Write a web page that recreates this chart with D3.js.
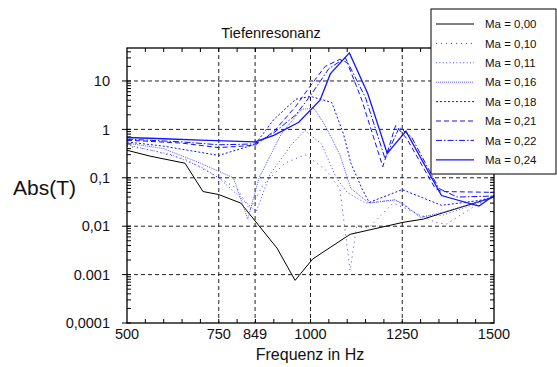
<!DOCTYPE html>
<html>
<head>
<meta charset="utf-8">
<script src="https://cdn.jsdelivr.net/npm/d3@7"></script>
<style>
  body { margin: 0; background: #fff; }
  text { font-family: "Liberation Sans", Arial, sans-serif; fill: #111; }
</style>
</head>
<body>
<script>
const width = 557;
const height = 367;
const margin = { top: 48, right: 63, bottom: 44, left: 127 };

// x tick values (Hz) and y tick labels
const xTicks = [500, 750, 849, 1000, 1250, 1500];
const yTicks = [0.0001, 0.001, 0.01, 0.1, 1, 10];
const yTickLabels = ['0,0001', '0.001', '0,01', '0,1', '1', '10'];

const machLabels = ['Ma = 0,00', 'Ma = 0,10', 'Ma = 0,11', 'Ma = 0,16',
                    'Ma = 0,18', 'Ma = 0,21', 'Ma = 0,22', 'Ma = 0,24'];

// [frequency in Hz, Abs(T)]
const ma000 = [[500,0.37],[563,0.28],[658,0.2],[707,0.052],[750,0.045],[810,0.03],
  [909,0.0035],[958,0.00076],[1006,0.0021],[1108,0.0068],[1252,0.012],[1307,0.014],
  [1362,0.019],[1500,0.04]];
const ma010 = [[500,0.45],[560,0.38],[660,0.24],[750,0.1],[800,0.06],[835,0.022],
  [870,0.07],[930,0.2],[985,0.3],[1040,0.15],[1080,0.06],[1108,0.0012],[1125,0.0095],
  [1160,0.0095],[1225,0.03],[1280,0.02],[1340,0.012],[1370,0.011],[1460,0.03],[1500,0.04]];
const ma011 = [[500,0.48],[620,0.3],[700,0.17],[750,0.1],[800,0.045],[852,0.02],
  [890,0.12],[950,0.5],[985,0.95],[1030,0.5],[1070,0.1],[1100,0.05],[1150,0.03],
  [1230,0.035],[1300,0.016],[1362,0.017],[1460,0.031],[1500,0.04]];
const ma016 = [[500,0.52],[600,0.4],[700,0.2],[790,0.1],[829,0.014],[860,0.1],
  [920,0.8],[975,2.6],[1010,2.7],[1040,1.2],[1080,0.3],[1110,0.06],[1160,0.03],
  [1230,0.035],[1250,0.03],[1300,0.015],[1362,0.0195],[1450,0.031],[1500,0.04]];
const ma018 = [[500,0.55],[600,0.45],[750,0.29],[849,0.49],[900,1.6],[960,4.2],
  [1000,4.8],[1058,3.6],[1090,0.8],[1110,0.2],[1140,0.06],[1160,0.031],[1250,0.057],
  [1357,0.027],[1460,0.034],[1500,0.04]];
const ma021 = [[500,0.6],[650,0.52],[750,0.42],[849,0.47],[900,0.9],[960,3],
  [1000,8],[1040,20],[1080,28],[1100,24],[1140,4],[1197,0.17],[1232,1.2],[1262,0.65],
  [1340,0.06],[1357,0.052],[1500,0.05]];
const ma022 = [[500,0.63],[650,0.55],[750,0.48],[849,0.5],[900,0.85],[960,2],
  [1000,5],[1050,18],[1095,30],[1150,4.5],[1203,0.25],[1242,1.1],[1275,0.7],
  [1350,0.06],[1400,0.04],[1500,0.042]];
const ma024 = [[500,0.68],[600,0.64],[700,0.6],[849,0.55],[900,0.75],[968,1.4],
  [1026,4],[1054,14],[1106,38],[1156,5.5],[1209,0.32],[1260,0.92],[1357,0.043],
  [1459,0.026],[1500,0.043]];

const series = [ma000, ma010, ma011, ma016, ma018, ma021, ma022, ma024];
const colors = ['#000', '#3c3cff', '#4545ff', '#5757ff', '#1010ff', '#1010ff', '#1010ff', '#1414ff'];
const dashes = [null, '1,4', '1,2.4', '1,1', '2,2', '5,3', '6,2,1.5,2', null];

const x = d3.scaleLinear()
  .domain([500, 1500])
  .range([margin.left, width - margin.right]);

const y = d3.scaleLog()
  .domain([0.0001, 48])
  .range([height - margin.bottom, margin.top]);

const svg = d3.select('body')
  .append('svg')
  .attr('width', width)
  .attr('height', height);

svg.append('defs').append('clipPath').attr('id', 'plot')
  .append('rect')
  .attr('x', margin.left).attr('y', margin.top)
  .attr('width', width - margin.left - margin.right)
  .attr('height', height - margin.top - margin.bottom);

// grid
const grid = svg.append('g')
  .attr('stroke', '#222')
  .attr('stroke-dasharray', '4,3')
  .attr('stroke-width', 1);
xTicks.slice(1, -1).forEach(t => {
  grid.append('line')
    .attr('x1', x(t)).attr('x2', x(t))
    .attr('y1', margin.top).attr('y2', height - margin.bottom);
});
yTicks.slice(1).forEach(t => {
  grid.append('line')
    .attr('x1', margin.left).attr('x2', width - margin.right)
    .attr('y1', y(t)).attr('y2', y(t));
});

// minor ticks
const ticks = svg.append('g').attr('stroke', '#000').attr('stroke-width', 1);
d3.range(550, 1500, 50).forEach(t => {
  ticks.append('line').attr('x1', x(t)).attr('x2', x(t))
    .attr('y1', height - margin.bottom).attr('y2', height - margin.bottom - 4);
  ticks.append('line').attr('x1', x(t)).attr('x2', x(t))
    .attr('y1', margin.top).attr('y2', margin.top + 4);
});
y.ticks().filter(t => t < 48).forEach(t => {
  ticks.append('line').attr('x1', margin.left).attr('x2', margin.left + 4)
    .attr('y1', y(t)).attr('y2', y(t));
  ticks.append('line').attr('x1', width - margin.right).attr('x2', width - margin.right - 4)
    .attr('y1', y(t)).attr('y2', y(t));
});
yTicks.forEach(t => {
  ticks.append('line').attr('x1', margin.left - 5).attr('x2', margin.left)
    .attr('y1', y(t)).attr('y2', y(t));
});

// lines
const line = d3.line()
  .x(d => x(d[0]))
  .y(d => y(d[1]));

svg.append('g').attr('clip-path', 'url(#plot)')
  .selectAll('path')
  .data(series)
  .enter()
  .append('path')
  .attr('fill', 'none')
  .attr('stroke', (d, i) => colors[i])
  .attr('stroke-width', (d, i) => i === 7 ? 1.3 : 1)
  .attr('stroke-dasharray', (d, i) => dashes[i])
  .attr('d', line);

// frame
svg.append('rect')
  .attr('x', margin.left).attr('y', margin.top)
  .attr('width', width - margin.left - margin.right)
  .attr('height', height - margin.top - margin.bottom)
  .attr('fill', 'none').attr('stroke', '#000').attr('stroke-width', 1.3);

// tick labels
svg.append('g').selectAll('text')
  .data(xTicks)
  .enter().append('text')
  .attr('x', d => x(d))
  .attr('y', 338.5)
  .attr('text-anchor', 'middle')
  .style('font-size', '14.5px')
  .text(d => d);

svg.append('g').selectAll('text')
  .data(yTicks)
  .enter().append('text')
  .attr('x', 110)
  .attr('y', d => y(d))
  .attr('dy', '0.36em')
  .attr('text-anchor', 'end')
  .style('font-size', '14.5px')
  .text((d, i) => yTickLabels[i]);

svg.append('text')
  .attr('x', 271).attr('y', 38)
  .attr('text-anchor', 'middle')
  .style('font-size', '14.5px')
  .text('Tiefenresonanz');

svg.append('text')
  .attr('x', 310).attr('y', 360)
  .attr('text-anchor', 'middle')
  .style('font-size', '16px')
  .text('Frequenz in Hz');

svg.append('text')
  .attr('x', 13).attr('y', 195)
  .style('font-size', '21px')
  .text('Abs(T)');

// legend
const legend = svg.append('g');
legend.append('rect')
  .attr('x', 431).attr('y', 9)
  .attr('width', 125).attr('height', 165)
  .attr('fill', '#fff').attr('stroke', '#000').attr('stroke-width', 1);

machLabels.forEach((lab, i) => {
  const ly = 24 + i * 19.4;
  legend.append('line')
    .attr('x1', 436).attr('x2', 474)
    .attr('y1', ly).attr('y2', ly)
    .attr('stroke', colors[i])
    .attr('stroke-width', i === 7 ? 1.3 : 1)
    .attr('stroke-dasharray', dashes[i]);
  legend.append('text')
    .attr('x', 485).attr('y', ly)
    .attr('dy', '0.36em')
    .style('font-size', '11.5px')
    .text(lab);
});
</script>
</body>
</html>
